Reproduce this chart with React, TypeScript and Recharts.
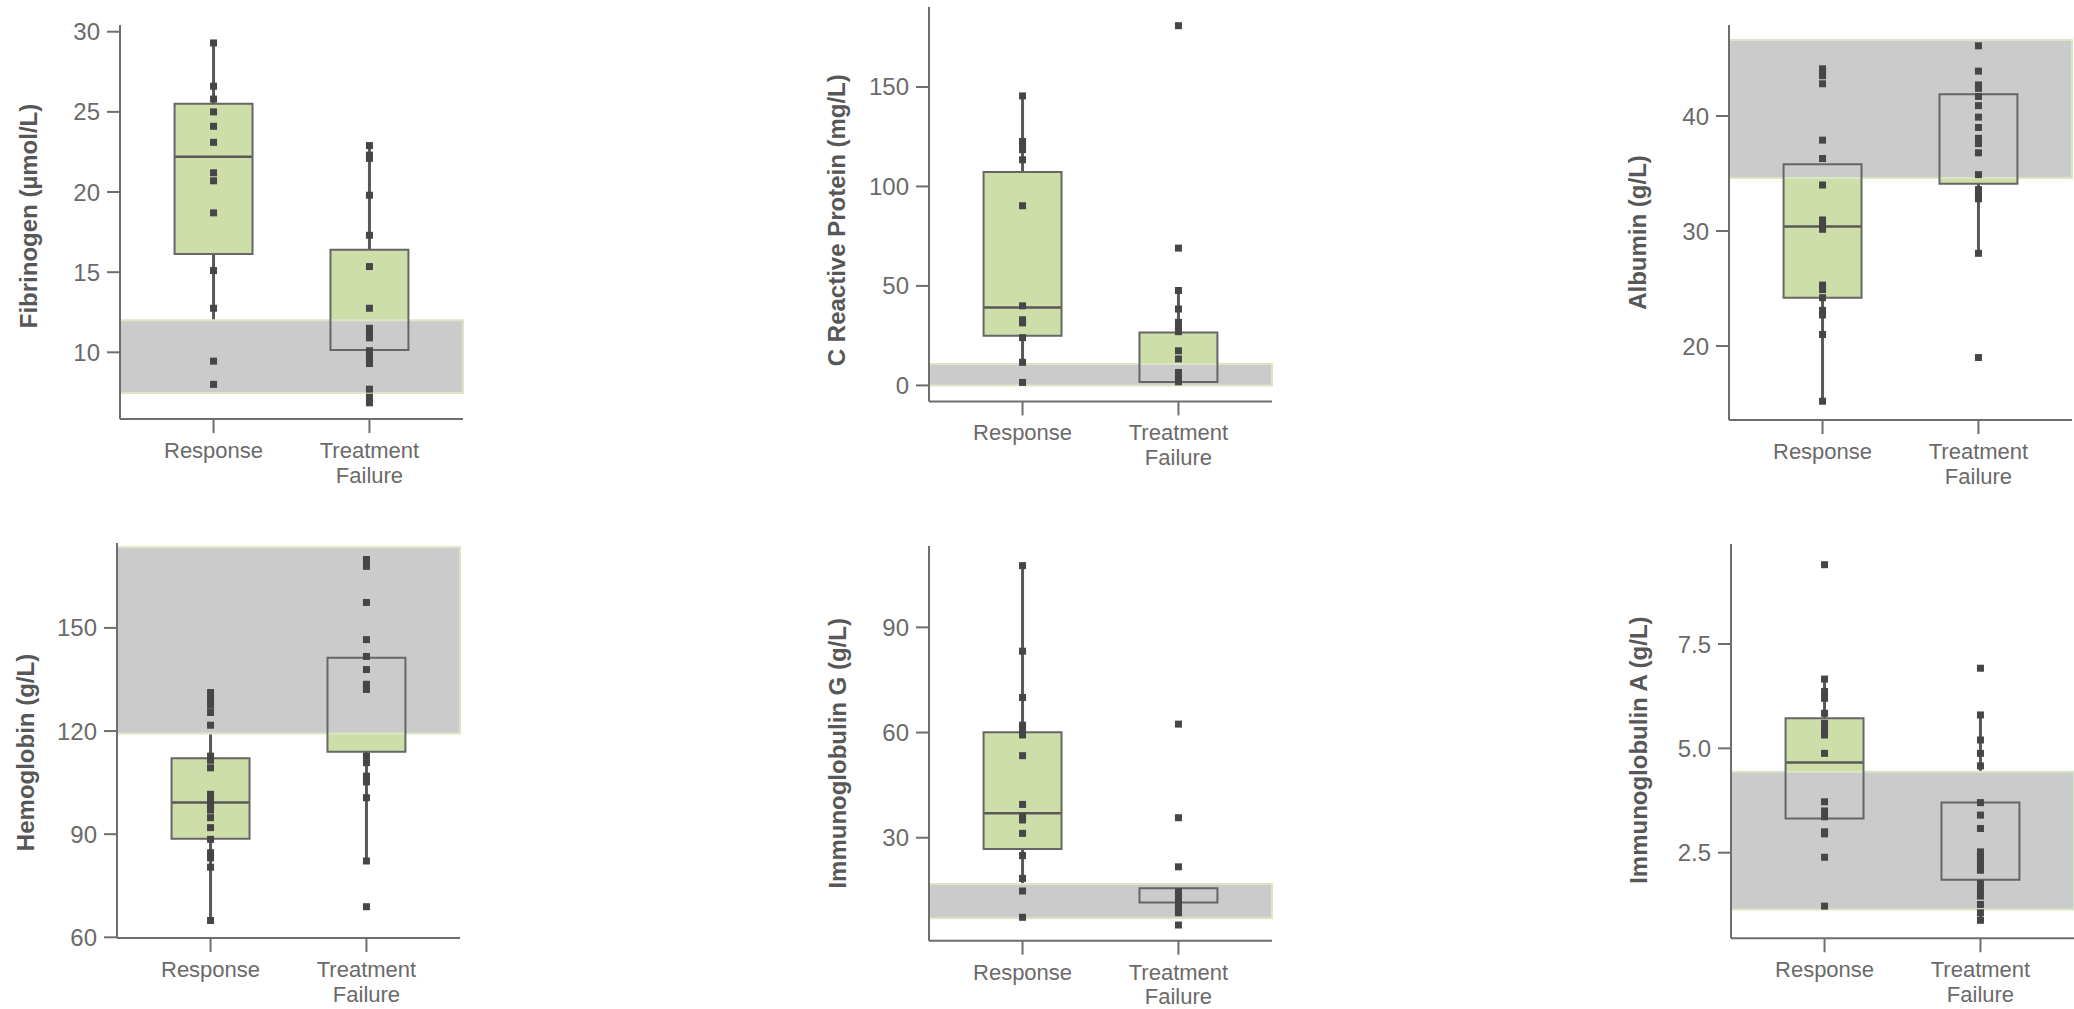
import React from "react";
import {
  ComposedChart,
  Scatter,
  XAxis,
  YAxis,
  ReferenceArea,
  ReferenceLine,
} from "recharts";

const groups = ["Response", "Treatment Failure"];

// Fibrinogen (µmol/L)
const fibrinogenResponse = [29.3, 26.6, 25.8, 25.0, 24.1, 23.1, 21.2, 20.7, 18.7, 15.1, 12.75, 9.45, 8.0];
const fibrinogenFailure = [22.9, 22.3, 22.1, 19.8, 17.3, 15.35, 12.75, 11.5, 11.2, 10.9, 10.1, 9.8, 9.6, 9.3, 7.7, 7.2, 6.85];
const fibrinogenBoxes = [
  { q1: 16.14, median: 22.2, q3: 25.5, low: 8.0, high: 29.3 },
  { q1: 10.14, median: 11.2, q3: 16.4, low: 6.85, high: 22.9 },
];
const fibrinogenRange = [7.46, 12.0];

// C reactive protein (mg/L)
const crpResponse = [145.5, 122.6, 120.6, 118.5, 113.4, 90.3, 40, 33, 31.4, 24, 11.6, 1.5];
const crpFailure = [180.8, 69, 47.7, 38.4, 31.7, 29.5, 27, 17.4, 13.3, 6.5, 3.7, 3.0, 1.8];
const crpBoxes = [
  { q1: 25.0, median: 39.2, q3: 107.3, low: 1.5, high: 145.5 },
  { q1: 1.7, median: 8.0, q3: 26.6, low: 1.7, high: 47.7 },
];
const crpRange = [0, 10.8];

// Albumin (g/L)
const albuminResponse = [44.1, 43.8, 43.5, 42.8, 37.9, 36.3, 34.0, 30.96, 30.5, 30.15, 25.3, 24.9, 24.2, 23.1, 22.7, 21.0, 15.2];
const albuminFailure = [46.1, 43.9, 42.7, 42.4, 41.7, 40.9, 39.9, 39.0, 38.06, 37.6, 36.8, 34.9, 33.6, 33.0, 32.8, 28.06, 19.0];
const albuminBoxes = [
  { q1: 24.2, median: 30.4, q3: 35.8, low: 15.2, high: 44.1 },
  { q1: 34.1, median: 38.5, q3: 41.9, low: 28.06, high: 46.1 },
];
const albuminRange = [34.6, 46.6];

// Hemoglobin (g/L)
const hemoglobinResponse = [131.2, 129.2, 127.5, 125.4, 121.7, 112.7, 111.5, 109.3, 101.6, 100.3, 98.6, 97, 94.8, 91.9, 88.5, 84.6, 83.1, 80.4, 64.9];
const hemoglobinFailure = [169.9, 167.9, 157.4, 146.6, 141.7, 137.9, 133.6, 132.1, 112.7, 110.8, 106.9, 105.2, 100.6, 82.2, 68.9];
const hemoglobinBoxes = [
  { q1: 88.7, median: 99.2, q3: 112.06, low: 64.9, high: 131.2 },
  { q1: 114.0, median: 132.5, q3: 141.3, low: 82.2, high: 169.9 },
];
const hemoglobinRange = [119.3, 173.5];

// Immunoglobulin G (g/L)
const iggResponse = [107.6, 83.2, 70.0, 62.1, 60.8, 59.3, 53.4, 39.5, 36.0, 35.05, 31.25, 24.9, 18.4, 14.8, 7.3];
const iggFailure = [62.4, 35.7, 21.7, 14.6, 13.2, 11.7, 10.5, 9.5, 8.6, 5.1];
const iggBoxes = [
  { q1: 26.8, median: 36.96, q3: 60.1, low: 7.3, high: 107.6 },
  { q1: 11.5, median: 12.5, q3: 15.6, low: 8.6, high: 14.6 },
];
const iggRange = [7.0, 16.8];

// Immunoglobulin A (g/L)
const igaResponse = [9.4, 6.66, 6.36, 6.2, 5.84, 5.6, 5.45, 5.32, 4.88, 3.72, 3.5, 3.36, 3.0, 2.95, 2.39, 1.22];
const igaFailure = [6.92, 5.8, 5.2, 4.88, 4.58, 3.7, 3.4, 3.08, 2.52, 2.4, 2.3, 2.2, 2.08, 1.76, 1.6, 1.46, 1.26, 1.06, 0.88];
const igaBoxes = [
  { q1: 3.32, median: 4.66, q3: 5.72, low: 1.22, high: 6.66 },
  { q1: 1.85, median: 2.35, q3: 3.7, low: 0.88, high: 5.8 },
];
const igaRange = [1.14, 4.44];

const GREEN = "#cedea9";
const BAND = "#cbcbcb";
const BAND_EDGE = "#dbe7c3";
const DARK = "#585858";
const AXIS = "#6e6e6e";
const TEXT = "#6a6a6a";
const PLOT_W = 343;
const HALF_BOX = 0.25;

const panels = [
  {
    label: "Fibrinogen (µmol/L)", plotLeft: 120, plotTop: 25, plotHeight: 394, labelShift: -6,
    domain: [5.84, 30.42], ticks: [10, 15, 20, 25, 30],
    response: fibrinogenResponse, failure: fibrinogenFailure, boxes: fibrinogenBoxes, range: fibrinogenRange,
  },
  {
    label: "C Reactive Protein (mg/L)", plotLeft: 929, plotTop: 7.3, plotHeight: 394.4, labelShift: 16,
    domain: [-8.04, 190.2], ticks: [0, 50, 100, 150],
    response: crpResponse, failure: crpFailure, boxes: crpBoxes, range: crpRange,
  },
  {
    label: "Albumin (g/L)", plotLeft: 1729, plotTop: 25, plotHeight: 395, labelShift: 10,
    domain: [13.57, 47.91], ticks: [20, 30, 40],
    response: albuminResponse, failure: albuminFailure, boxes: albuminBoxes, range: albuminRange,
  },
  {
    label: "Hemoglobin (g/L)", plotLeft: 117.3, plotTop: 543.3, plotHeight: 395, labelShift: 12,
    domain: [59.8, 174.7], ticks: [60, 90, 120, 150],
    response: hemoglobinResponse, failure: hemoglobinFailure, boxes: hemoglobinBoxes, range: hemoglobinRange,
  },
  {
    label: "Immunoglobulin G (g/L)", plotLeft: 929, plotTop: 546, plotHeight: 394.7, labelShift: 10,
    domain: [0.63, 113.2], ticks: [30, 60, 90],
    response: iggResponse, failure: iggFailure, boxes: iggBoxes, range: iggRange,
  },
  {
    label: "Immunoglobulin A (g/L)", plotLeft: 1730.7, plotTop: 544, plotHeight: 394.3, labelShift: 9,
    domain: [0.449, 9.896], ticks: [2.5, 5, 7.5], format: (v: number) => v.toFixed(1),
    response: igaResponse, failure: igaFailure, boxes: igaBoxes, range: igaRange,
  },
];

// two-line category labels under the x axis
const CategoryTick = ({ x, y, payload }: any) => {
  const lines = groups[Math.round(payload.value) - 1].split(" ");
  return (
    <text x={x} y={y} textAnchor="middle" fill={TEXT} fontSize={22}>
      {lines.map((line, i) => (
        <tspan key={line} x={x} dy={i === 0 ? 23 : 24.5}>
          {line}
        </tspan>
      ))}
    </text>
  );
};

const SquareDot = ({ cx, cy }: any) => (
  <rect x={cx - 3.5} y={cy - 3.5} width={7} height={7} fill="#464646" />
);

function Panel({ p }: { p: (typeof panels)[number] }) {
  const width = 120 + PLOT_W + 4;
  const height = 10 + p.plotHeight + 80;
  const points = [
    ...p.response.map((v) => ({ x: 1, y: v })),
    ...p.failure.map((v) => ({ x: 2, y: v })),
  ];

  const yLabel = (props: any) => {
    const vb = props.viewBox;
    const cx = vb.x + 28;
    const cy = vb.y + vb.height / 2 + p.labelShift;
    return (
      <text
        x={cx}
        y={cy}
        transform={`rotate(-90, ${cx}, ${cy})`}
        textAnchor="middle"
        dominantBaseline="central"
        fill="#575757"
        fontSize={24}
        fontWeight="bold"
      >
        {p.label}
      </text>
    );
  };

  return (
    <div style={{ position: "absolute", left: p.plotLeft - 120, top: p.plotTop - 10 }}>
      <ComposedChart width={width} height={height} margin={{ top: 10, right: 4, left: 0, bottom: 0 }}>
        <XAxis
          type="number"
          dataKey="x"
          domain={[0.4, 2.6]}
          ticks={[1, 2]}
          interval={0}
          allowDataOverflow
          height={80}
          tick={<CategoryTick />}
          tickSize={14}
          tickLine={{ stroke: AXIS, strokeWidth: 2 }}
          axisLine={{ stroke: AXIS, strokeWidth: 2 }}
        />
        <YAxis
          type="number"
          dataKey="y"
          domain={p.domain}
          ticks={p.ticks}
          allowDataOverflow
          width={120}
          tickFormatter={p.format}
          tick={{ fill: TEXT, fontSize: 24 }}
          tickSize={13}
          tickMargin={7}
          tickLine={{ stroke: AXIS, strokeWidth: 2 }}
          axisLine={{ stroke: AXIS, strokeWidth: 2 }}
          label={{ content: yLabel }}
        />

        {/* box bodies, medians and whiskers sit under the reference band */}
        {p.boxes.map((b, i) => (
          <ReferenceArea
            key={`fill-${i}`}
            x1={i + 1 - HALF_BOX}
            x2={i + 1 + HALF_BOX}
            y1={b.q1}
            y2={b.q3}
            fill={GREEN}
            fillOpacity={1}
            stroke="none"
            zIndex={10}
          />
        ))}
        {p.boxes.map((b, i) => (
          <ReferenceLine
            key={`med-${i}`}
            segment={[
              { x: i + 1 - HALF_BOX, y: b.median },
              { x: i + 1 + HALF_BOX, y: b.median },
            ]}
            stroke={DARK}
            strokeWidth={2.5}
            zIndex={20}
          />
        ))}
        {p.boxes.map((b, i) => (
          <ReferenceLine
            key={`up-${i}`}
            segment={[
              { x: i + 1, y: b.q3 },
              { x: i + 1, y: b.high },
            ]}
            stroke={DARK}
            strokeWidth={3}
            zIndex={20}
          />
        ))}
        {p.boxes.map((b, i) => (
          <ReferenceLine
            key={`lo-${i}`}
            segment={[
              { x: i + 1, y: b.low },
              { x: i + 1, y: b.q1 },
            ]}
            stroke={DARK}
            strokeWidth={3}
            zIndex={20}
          />
        ))}

        <ReferenceArea
          y1={p.range[0]}
          y2={p.range[1]}
          fill={BAND}
          fillOpacity={1}
          stroke={BAND_EDGE}
          strokeWidth={2}
          zIndex={30}
        />

        {p.boxes.map((b, i) => (
          <ReferenceArea
            key={`edge-${i}`}
            x1={i + 1 - HALF_BOX}
            x2={i + 1 + HALF_BOX}
            y1={b.q1}
            y2={b.q3}
            fill="none"
            stroke="#666666"
            strokeWidth={2}
            zIndex={40}
          />
        ))}

        <Scatter data={points} dataKey="y" shape={<SquareDot />} isAnimationActive={false} />
      </ComposedChart>
    </div>
  );
}

export default function App() {
  return (
    <div
      style={{
        position: "absolute",
        left: 0,
        top: 0,
        width: 2074,
        height: 1009,
        overflow: "hidden",
        background: "#ffffff",
        fontFamily: "'Liberation Sans', Arial, sans-serif",
      }}
    >
      {panels.map((p) => (
        <Panel key={p.label} p={p} />
      ))}
    </div>
  );
}
